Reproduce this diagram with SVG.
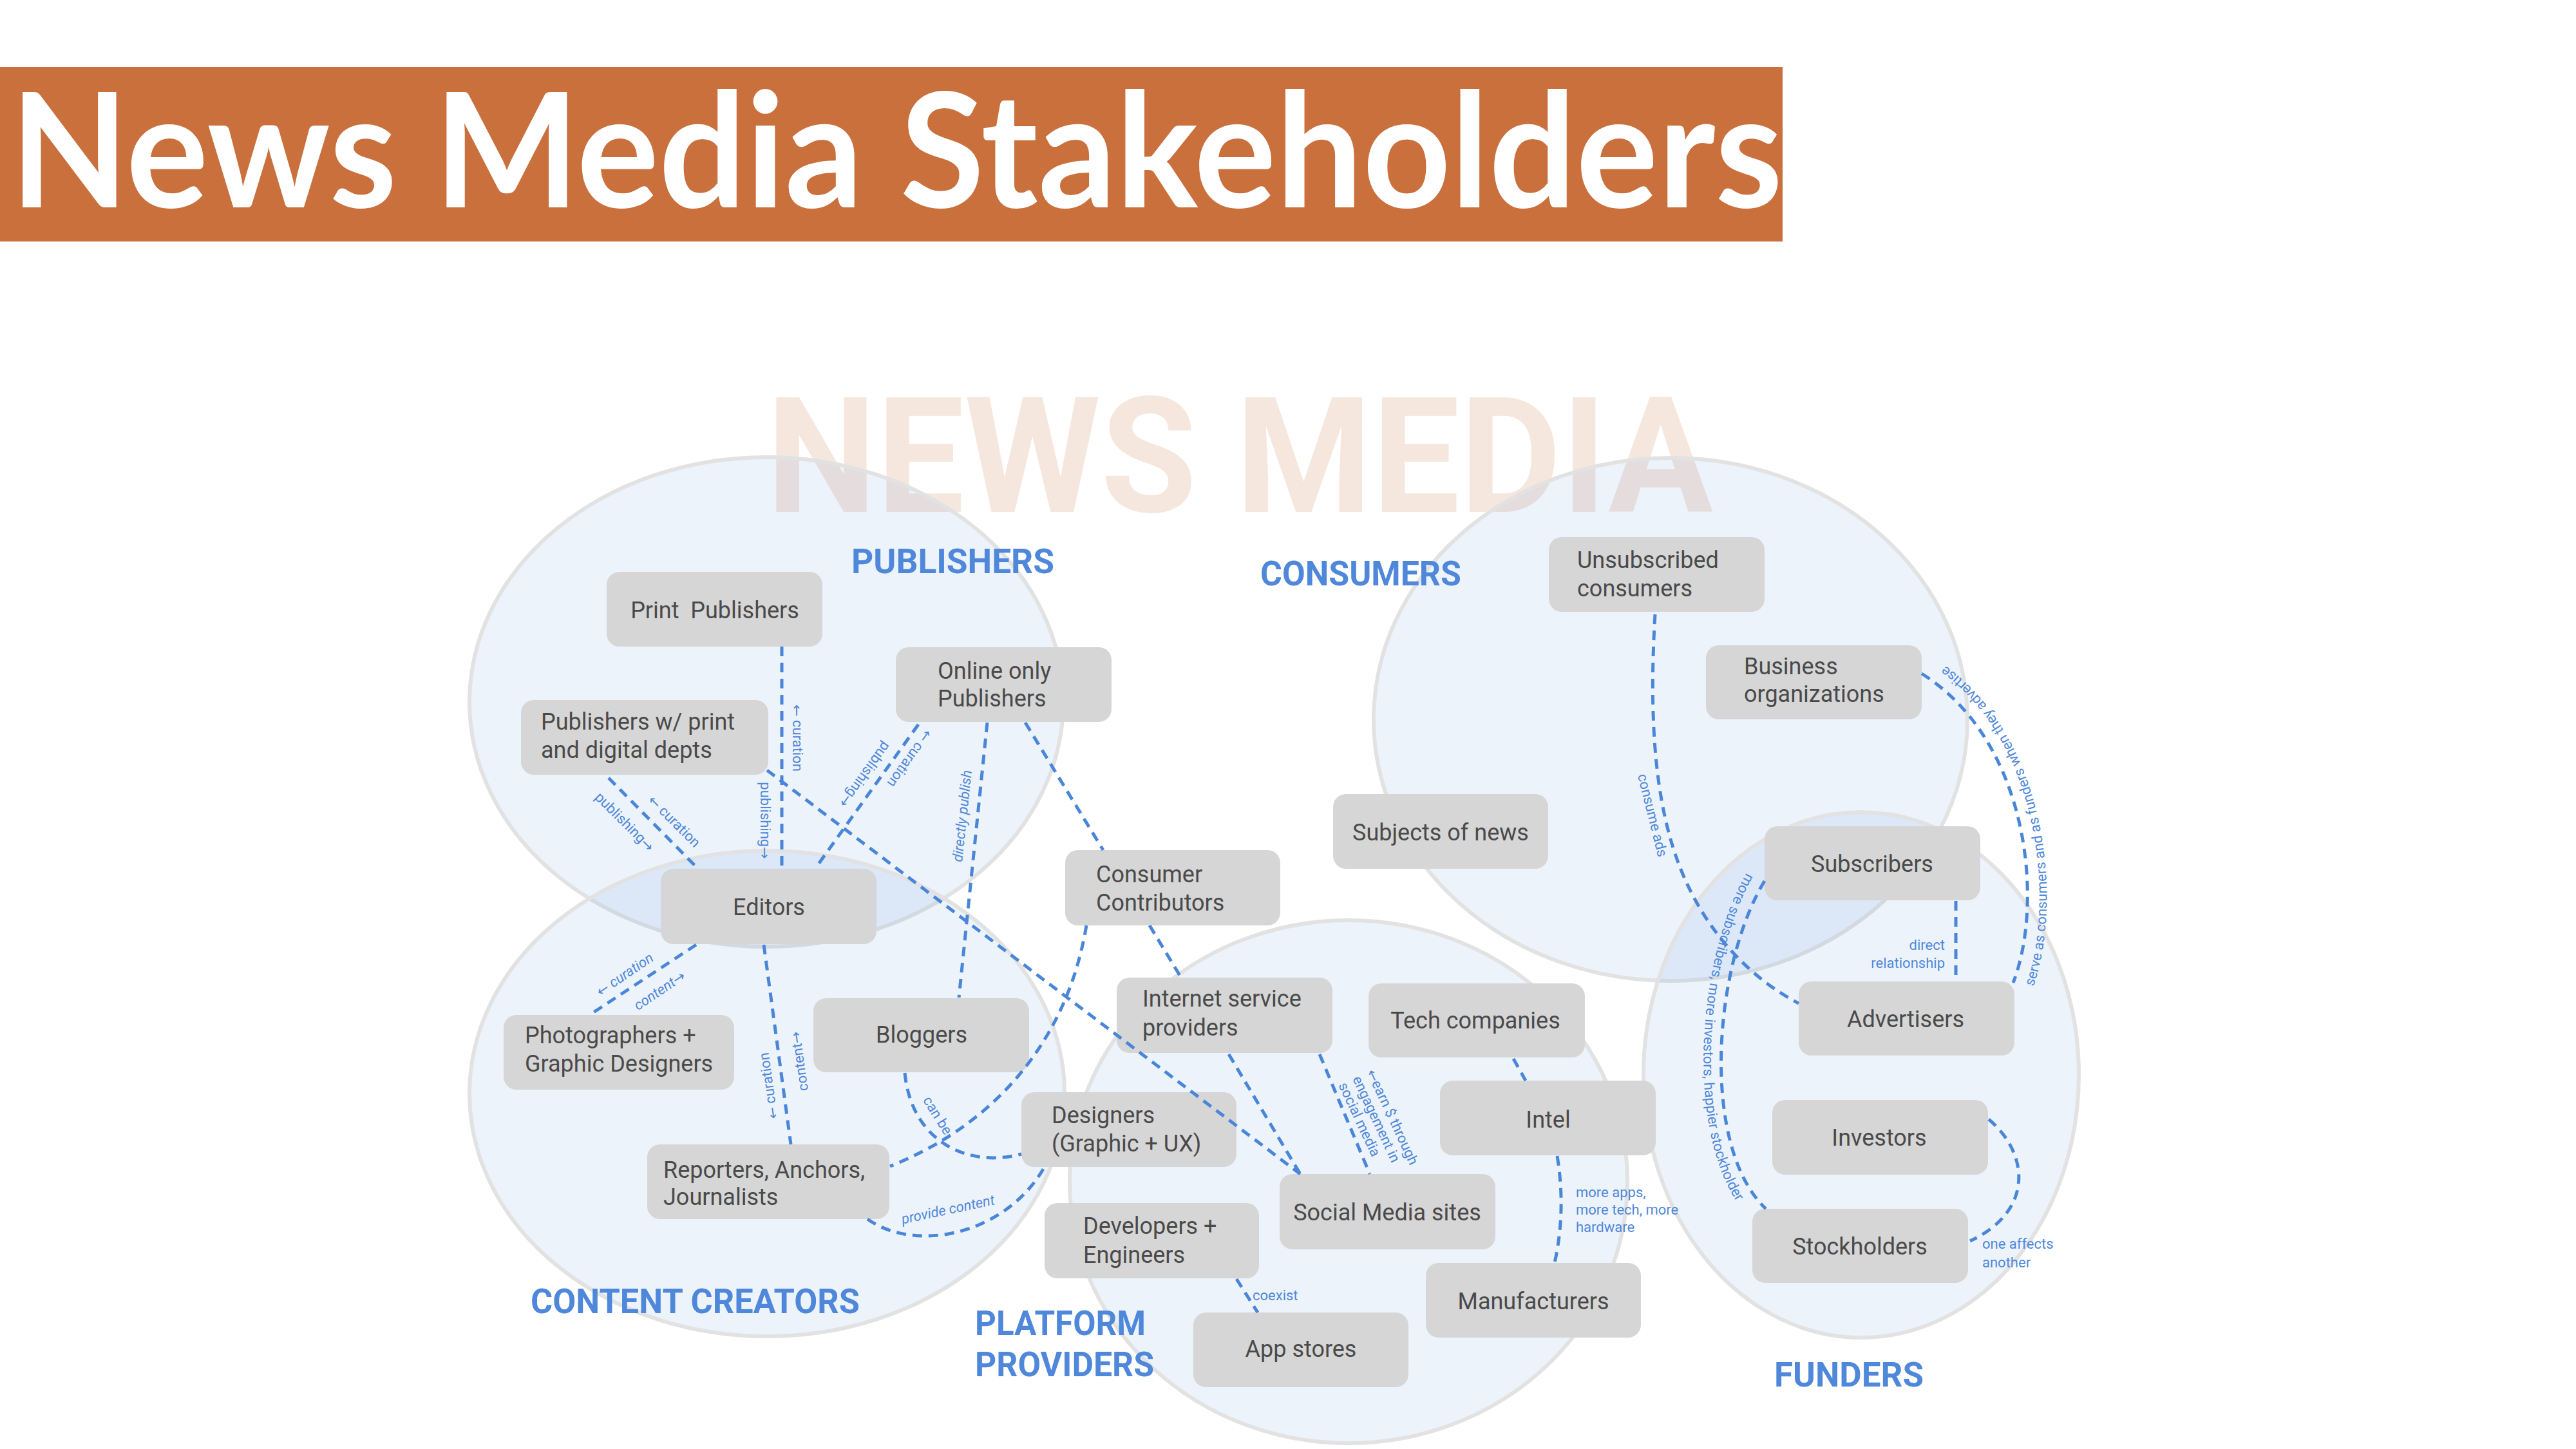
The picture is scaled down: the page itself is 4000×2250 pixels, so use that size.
<svg xmlns="http://www.w3.org/2000/svg" width="4000" height="2250" viewBox="0 0 4000 2250">
<defs>
<style>
.circ{fill:#4a86d8;fill-opacity:0.1;stroke:#e2e2e2;stroke-width:6}
.box{fill:#d6d6d6}
.nt{font-family:Roboto,"Liberation Sans",sans-serif;font-size:36px;fill:#4a4a4a}
.mid{text-anchor:middle}
.cat{font-family:Roboto,"Liberation Sans",sans-serif;font-weight:bold;font-size:53px;fill:#4f88da}
.c{fill:none;stroke:#4a86d8;stroke-width:5;stroke-dasharray:15 10}
.lb{font-family:Roboto,"Liberation Sans",sans-serif;font-size:22px;fill:#4f88da}
.lc{text-anchor:middle;dominant-baseline:central}
.it{font-style:italic}
.ar{font-family:"DejaVu Sans",sans-serif;font-style:normal}
</style>
<path id="p18" d="M3156,1536 C3205,1405 3182,1130 3000,1020"/>
<path id="p20" d="M2714,1352 C2630,1492 2612,1792 2722,1897"/>
</defs>
<rect width="4000" height="2250" fill="#ffffff"/>
<g id="title">
<rect x="0" y="104" width="2768" height="271" fill="#c9703d"/>
<text x="16" y="322" font-family="Lato,'Liberation Sans',sans-serif" font-weight="bold" font-size="248" fill="#ffffff" textLength="2752" lengthAdjust="spacingAndGlyphs">News Media Stakeholders</text>
</g>
<text id="watermark" x="1190" y="795" font-family="Roboto,'Liberation Sans',sans-serif" font-weight="bold" font-size="250" fill="#c9703d" fill-opacity="0.17" textLength="1470" lengthAdjust="spacingAndGlyphs">NEWS MEDIA</text>
<g id="groups">
<ellipse class="circ" cx="1190" cy="1090" rx="461" ry="380"/>
<ellipse class="circ" cx="1191" cy="1698" rx="462" ry="377"/>
<ellipse class="circ" cx="2594" cy="1117" rx="461" ry="406"/>
<ellipse class="circ" cx="2094" cy="1835" rx="433" ry="406"/>
<ellipse class="circ" cx="2890" cy="1669" rx="338" ry="408"/>
<text class="cat" x="1322" y="890" textLength="315" lengthAdjust="spacingAndGlyphs">PUBLISHERS</text>
<text class="cat" x="1957" y="909" textLength="312" lengthAdjust="spacingAndGlyphs">CONSUMERS</text>
<text class="cat" x="824" y="2039" textLength="511" lengthAdjust="spacingAndGlyphs">CONTENT CREATORS</text>
<text class="cat" x="1514" y="2073" textLength="265" lengthAdjust="spacingAndGlyphs">PLATFORM</text>
<text class="cat" x="1514" y="2137" textLength="278" lengthAdjust="spacingAndGlyphs">PROVIDERS</text>
<text class="cat" x="2755" y="2153" font-size="58" textLength="232" lengthAdjust="spacingAndGlyphs">FUNDERS</text>
</g>
<g id="n-print"><rect class="box" x="942" y="888" width="335" height="116" rx="20"/><text class="nt mid" x="1110" y="960">Print&#160; Publishers</text></g>
<g id="n-pubw"><rect class="box" x="809" y="1087" width="384" height="116" rx="20"/><text class="nt" x="840" y="1133">Publishers w/ print</text><text class="nt" x="840" y="1177">and digital depts</text></g>
<g id="n-online"><rect class="box" x="1391" y="1005" width="335" height="116" rx="20"/><text class="nt" x="1456" y="1054">Online only</text><text class="nt" x="1456" y="1097">Publishers</text></g>
<g id="n-editors"><rect class="box" x="1026" y="1349" width="335" height="117" rx="20"/><text class="nt mid" x="1194" y="1421">Editors</text></g>
<g id="n-consumer"><rect class="box" x="1654" y="1320" width="334" height="117" rx="20"/><text class="nt" x="1702" y="1370">Consumer</text><text class="nt" x="1702" y="1414">Contributors</text></g>
<g id="n-subjects"><rect class="box" x="2070" y="1233" width="334" height="116" rx="20"/><text class="nt mid" x="2237" y="1305">Subjects of news</text></g>
<g id="n-photo"><rect class="box" x="782" y="1576" width="358" height="116" rx="20"/><text class="nt" x="815" y="1620">Photographers +</text><text class="nt" x="815" y="1664">Graphic Designers</text></g>
<g id="n-bloggers"><rect class="box" x="1263" y="1550" width="335" height="115" rx="20"/><text class="nt mid" x="1431" y="1619">Bloggers</text></g>
<g id="n-reporters"><rect class="box" x="1005" y="1777" width="376" height="116" rx="20"/><text class="nt" x="1030" y="1829">Reporters, Anchors,</text><text class="nt" x="1030" y="1871">Journalists</text></g>
<g id="n-isp"><rect class="box" x="1734" y="1518" width="335" height="117" rx="20"/><text class="nt" x="1774" y="1563">Internet service</text><text class="nt" x="1774" y="1608">providers</text></g>
<g id="n-tech"><rect class="box" x="2125" y="1527" width="336" height="115" rx="20"/><text class="nt mid" x="2291" y="1597">Tech companies</text></g>
<g id="n-designers"><rect class="box" x="1586" y="1696" width="334" height="116" rx="20"/><text class="nt" x="1633" y="1744">Designers</text><text class="nt" x="1633" y="1788">(Graphic + UX)</text></g>
<g id="n-intel"><rect class="box" x="2236" y="1678" width="335" height="116" rx="20"/><text class="nt mid" x="2404" y="1751">Intel</text></g>
<g id="n-social"><rect class="box" x="1987" y="1823" width="335" height="117" rx="20"/><text class="nt mid" x="2154" y="1895">Social Media sites</text></g>
<g id="n-dev"><rect class="box" x="1622" y="1868" width="333" height="117" rx="20"/><text class="nt" x="1682" y="1916">Developers +</text><text class="nt" x="1682" y="1961">Engineers</text></g>
<g id="n-manuf"><rect class="box" x="2214" y="1961" width="334" height="116" rx="20"/><text class="nt mid" x="2381" y="2033">Manufacturers</text></g>
<g id="n-app"><rect class="box" x="1853" y="2038" width="334" height="116" rx="20"/><text class="nt mid" x="2020" y="2107">App stores</text></g>
<g id="n-unsub"><rect class="box" x="2405" y="834" width="335" height="116" rx="20"/><text class="nt" x="2449" y="882">Unsubscribed</text><text class="nt" x="2449" y="926">consumers</text></g>
<g id="n-business"><rect class="box" x="2649" y="1002" width="335" height="115" rx="20"/><text class="nt" x="2708" y="1047">Business</text><text class="nt" x="2708" y="1090">organizations</text></g>
<g id="n-subscribers"><rect class="box" x="2740" y="1283" width="335" height="115" rx="20"/><text class="nt mid" x="2907" y="1354">Subscribers</text></g>
<g id="n-advertisers"><rect class="box" x="2793" y="1524" width="335" height="115" rx="20"/><text class="nt mid" x="2959" y="1595">Advertisers</text></g>
<g id="n-investors"><rect class="box" x="2752" y="1708" width="335" height="116" rx="20"/><text class="nt mid" x="2918" y="1779">Investors</text></g>
<g id="n-stockholders"><rect class="box" x="2721" y="1877" width="335" height="115" rx="20"/><text class="nt mid" x="2888" y="1948">Stockholders</text></g>
<g id="connectors">
<path class="c" d="M1214,1004 L1214,1349"/>
<path class="c" d="M945,1208 L1082,1347"/>
<path class="c" d="M1426,1125 L1267,1347"/>
<path class="c" d="M1533,1122 L1489,1549"/>
<path class="c" d="M1592,1122 L1713,1320"/>
<path class="c" d="M1191,1196 L2019,1823"/>
<path class="c" d="M1785,1437 L1834,1518"/>
<path class="c" d="M1687,1437 C1660,1600 1560,1740 1382,1811"/>
<path class="c" d="M1081,1467 L917,1575"/>
<path class="c" d="M1186,1467 L1228,1777"/>
<path class="c" d="M1405,1666 C1415,1770 1500,1815 1586,1792"/>
<path class="c" d="M1347,1893 C1420,1945 1560,1920 1622,1812"/>
<path class="c" d="M1908,1637 L2019,1823"/>
<path class="c" d="M2049,1637 L2127,1823"/>
<path class="c" d="M2350,1644 L2369,1678"/>
<path class="c" d="M2418,1795 Q2432,1880 2414,1961"/>
<path class="c" d="M1920,1986 L1953,2038"/>
<path class="c" d="M2570,954 C2560,1120 2570,1250 2610,1350 C2650,1450 2720,1520 2793,1558"/>
<path class="c" d="M2984,1046 C3150,1150 3175,1400 3126,1526"/>
<path class="c" d="M3037,1399 L3037,1524"/>
<path class="c" d="M2740,1368 C2660,1500 2640,1780 2742,1877"/>
<path class="c" d="M3088,1738 C3150,1790 3160,1880 3059,1927"/>
</g>
<g id="labels">
<text class="lb lc" transform="translate(1238,1146) rotate(90)"><tspan class="ar">←</tspan> curation</text>
<text class="lb lc" transform="translate(1188,1274) rotate(90)">publishing<tspan class="ar">→</tspan></text>
<text class="lb lc" transform="translate(970,1276) rotate(45)">publishing<tspan class="ar">→</tspan></text>
<text class="lb lc" transform="translate(1047,1275) rotate(45)"><tspan class="ar">←</tspan> curation</text>
<text class="lb lc" transform="translate(1343,1203) rotate(125.7)">publishing<tspan class="ar">→</tspan></text>
<text class="lb lc" transform="translate(1413,1178) rotate(125.7)"><tspan class="ar">←</tspan> curation</text>
<text class="lb lc it" transform="translate(1494,1267) rotate(-84)">directly publish</text>
<text class="lb lc it" transform="translate(970,1513) rotate(-34)"><tspan class="ar">←</tspan> curation</text>
<text class="lb lc it" transform="translate(1024,1538) rotate(-34)">content<tspan class="ar">→</tspan></text>
<text class="lb lc" transform="translate(1193,1686) rotate(-98)"><tspan class="ar">←</tspan> curation</text>
<text class="lb lc" transform="translate(1241,1648) rotate(-98)">content<tspan class="ar">→</tspan></text>
<text class="lb lc" transform="translate(1456,1732) rotate(58)">can be</text>
<text class="lb lc it" transform="translate(1472,1878) rotate(-12)">provide content</text>
<g transform="translate(2136,1658) rotate(65)">
<text class="lb" x="0" y="16"><tspan class="ar">←</tspan>earn $ through</text>
<text class="lb" x="0" y="40">engagement in</text>
<text class="lb" x="0" y="64">social media</text>
</g>
<text class="lb" x="2447" y="1859">more apps,</text>
<text class="lb" x="2447" y="1886">more tech, more</text>
<text class="lb" x="2447" y="1913">hardware</text>
<text class="lb" x="1945" y="2019">coexist</text>
<text class="lb lc" transform="translate(2566,1266) rotate(76)">consume ads</text>
<text class="lb"><textPath href="#p18" startOffset="4">serve as consumers and as funders when they advertise</textPath></text>
<text class="lb" x="3020" y="1475" text-anchor="end">direct</text>
<text class="lb" x="3020" y="1503" text-anchor="end">relationship</text>
<text class="lb"><textPath href="#p20" startOffset="4">more subscribers, more investors, happier stockholder</textPath></text>
<text class="lb" x="3078" y="1939">one affects</text>
<text class="lb" x="3078" y="1968">another</text>
</g>
</svg>
